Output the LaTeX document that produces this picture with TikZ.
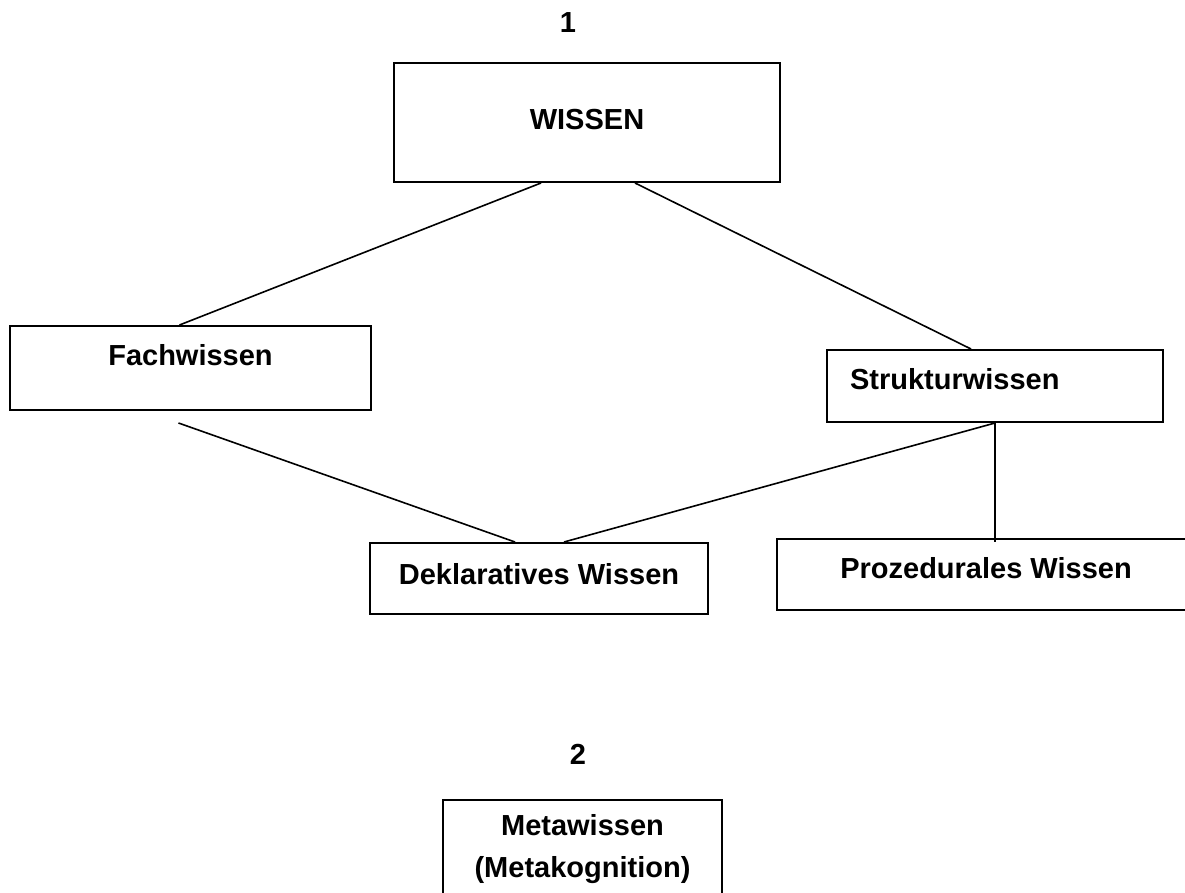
\documentclass[tikz,border=0pt]{standalone}
\usepackage{fontspec}
\setmainfont{Liberation Sans}
\usetikzlibrary{positioning}

\tikzset{
	kasten/.style={draw, line width=2pt, anchor=north west, inner xsep=0pt, inner ysep=0pt,
		font=\bfseries\fontsize{29}{42}\selectfont},
	linie/.style={line width=1.6pt},
	nummer/.style={inner sep=0pt, font=\bfseries\fontsize{29}{42}\selectfont}
}

\begin{document}
\begin{tikzpicture}[x=1pt,y=-1pt]
	\useasboundingbox (0,0) rectangle (1185,893);

	\coordinate (W) at (393,62);
	\coordinate (F) at (9,325);
	\coordinate (S) at (826,349);
	\coordinate (D) at (369,542);
	\coordinate (P) at (776,538);
	\coordinate (M) at (442,799);

	\node [nummer] (eins) at (568,23) {1};
	\node [nummer] (zwei) at (578,754) {2};

	\node [kasten, minimum width=386pt, text height=67pt, text depth=52pt] (wissen) at (W) {WISSEN};
	\node [kasten, minimum width=361pt, text height=39pt, text depth=45pt] (fach) at (F) {Fachwissen};
	\node [kasten, inner xsep=23pt, text width=290pt, align=left, text height=39pt, text depth=33pt] (struktur) at (S) {Strukturwissen};
	\node [kasten, minimum width=338pt, text height=41pt, text depth=30pt] (deklar) at (D) {Deklaratives Wissen};
	\node [kasten, minimum width=418pt, text height=39pt, text depth=32pt] (proz) at (P) {Prozedurales Wissen};
	\node [kasten, minimum width=279pt, align=center, text height=77pt, text depth=40pt] (meta) at (M) {Metawissen\\(Metakognition)};

	\coordinate (fachfuss) at ([xshift=-12pt,yshift=-12pt]fach.south);
	\coordinate (prozkopf) at (struktur.south |- proz.north);

	\draw [linie] ([xshift=-46pt]wissen.south) -- ([xshift=-11pt]fach.north);
	\draw [linie] ([xshift=48pt]wissen.south) -- ([xshift=-24pt]struktur.north);
	\draw [linie] (fachfuss) -- ([xshift=-24pt]deklar.north);
	\draw [linie] (struktur.south) -- ([xshift=25pt]deklar.north);
	\draw [linie] (struktur.south) -- ([yshift=-4pt]prozkopf);

\end{tikzpicture}
\end{document}
